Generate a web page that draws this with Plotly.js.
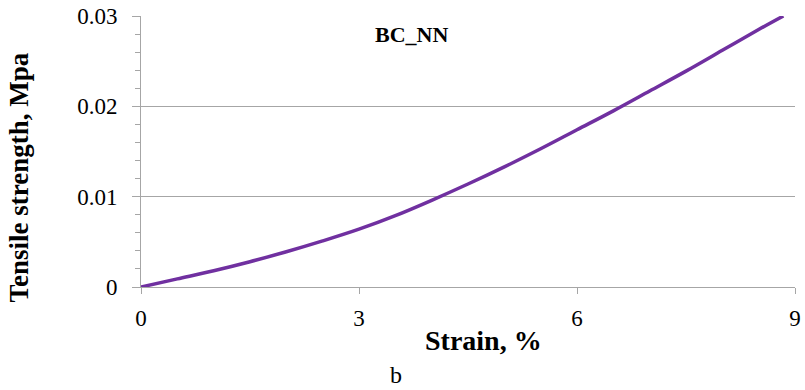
<!DOCTYPE html>
<html>
<head>
<meta charset="utf-8">
<script src="https://cdn.plot.ly/plotly-3.0.1.min.js"></script>
<style>html,body{margin:0;padding:0;background:#fff;}#chart{width:805px;height:390px;}</style>
</head>
<body>
<div id="chart"></div>
<script>
const strain = [0, 0.5, 1, 1.5, 2, 2.5, 3, 3.5, 4, 4.5, 5, 5.5, 6, 6.5, 7, 7.5, 8, 8.5, 8.84];
const tensile = [0, 0.0009, 0.0018, 0.0028, 0.0039, 0.0051, 0.0064, 0.0079, 0.0096, 0.0114, 0.0133, 0.0153, 0.0174, 0.0195, 0.0217, 0.0239, 0.0262, 0.0285, 0.0300];
const xTicks = [0, 3, 6, 9];
const yTicks = [0, 0.01, 0.02, 0.03];
const yTickText = ['0', '0.01', '0.02', '0.03'];
const seriesName = 'BC_NN';

const font = 'Liberation Serif, Times New Roman, serif';
const trace = {
  x: strain, y: tensile, type: 'scatter', mode: 'lines', name: seriesName,
  line: {color: '#7030A0', width: 3.5, shape: 'spline', smoothing: 1},
  hoverinfo: 'x+y'
};
const layout = {
  width: 805, height: 390,
  margin: {l: 141, r: 10, t: 16, b: 103},
  paper_bgcolor: '#fff', plot_bgcolor: '#fff',
  showlegend: false,
  font: {family: font, color: '#000'},
  xaxis: {
    range: [0, 9], tickvals: xTicks, ticktext: xTicks.map(String),
    showgrid: false, zeroline: false,
    showline: true, linecolor: '#a6a6a6', linewidth: 1,
    ticks: 'outside', ticklen: 6, tickcolor: '#a6a6a6',
    ticklabelstandoff: 4,
    tickfont: {family: font, size: 23, color: '#000'}
  },
  yaxis: {
    range: [0, 0.03], tickvals: yTicks, ticktext: yTickText,
    showgrid: true, gridcolor: '#a6a6a6', gridwidth: 1, zeroline: false,
    showline: true, linecolor: '#a6a6a6', linewidth: 1,
    ticks: 'outside', ticklen: 8, tickcolor: '#a6a6a6',
    ticklabelstandoff: 10,
    tickfont: {family: font, size: 23, color: '#000'},
    minor: {dtick: 0.002, ticks: 'outside', ticklen: 5, tickcolor: '#a6a6a6', showgrid: false}
  },
  annotations: [
    {text: '<b>Tensile strength, Mpa</b>', xref: 'paper', yref: 'paper', x: -0.188, y: 0.404,
     textangle: -90, showarrow: false, xanchor: 'center', yanchor: 'middle',
     font: {family: font, size: 27, color: '#000'}},
    {text: '<b>Strain, %</b>', xref: 'paper', yref: 'paper', x: 0.523, y: -0.199,
     showarrow: false, xanchor: 'center', yanchor: 'middle',
     font: {family: font, size: 28, color: '#000'}},
    {text: '<b>' + seriesName + '</b>', xref: 'paper', yref: 'paper', x: 0.414, y: 0.93,
     showarrow: false, xanchor: 'center', yanchor: 'middle',
     font: {family: font, size: 22, color: '#000'}},
    {text: 'b', xref: 'paper', yref: 'paper', x: 0.39, y: -0.378,
     showarrow: false, xanchor: 'center', yanchor: 'bottom', borderpad: 0,
     font: {family: font, size: 24, color: '#000'}}
  ]
};
Plotly.newPlot('chart', [trace], layout, {displayModeBar: false, staticPlot: true});
</script>
</body>
</html>
